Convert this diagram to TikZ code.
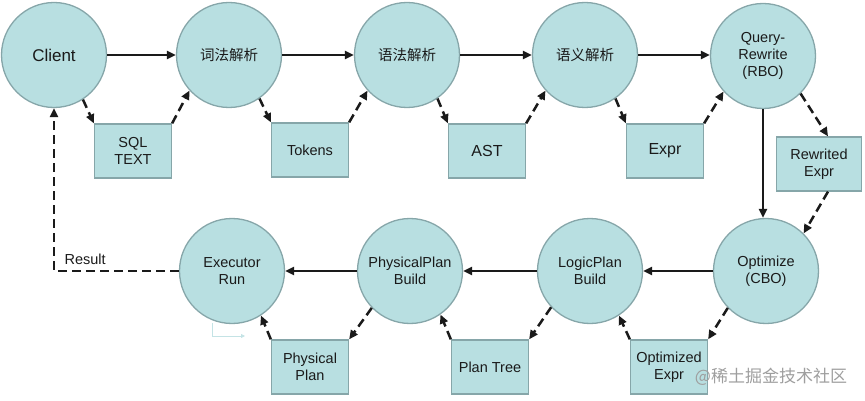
\documentclass[tikz,border=0pt]{standalone}
\usepackage{fontspec}
\setmainfont{Liberation Sans}
\newfontfamily\cjk{Noto Sans CJK SC}
\usetikzlibrary{arrows.meta}
\definecolor{fillc}{HTML}{B8DFE1}
\definecolor{edgec}{HTML}{86A6A9}
\definecolor{txt}{HTML}{1A1A1A}
\definecolor{faint}{HTML}{C4E3E5}
\begin{document}
\begin{tikzpicture}[x=1pt,y=-1pt,
  stage/.style={circle,draw=edgec,line width=1.3pt,fill=fillc,minimum size=105pt,inner sep=0pt,align=center,text=txt,font=\fontsize{14.5}{17}\selectfont},
  data/.style={rectangle,draw=edgec,line width=1.3pt,fill=fillc,minimum width=77pt,minimum height=54pt,inner sep=0pt,align=center,text=txt,font=\fontsize{14.5}{17}\selectfont},
  flow/.style={line width=2.5pt,draw=txt,-{Triangle[length=9pt,width=8pt]}},
  dflow/.style={flow,dash pattern=on 9pt off 5pt}]
\useasboundingbox (0,0) rectangle (865,401);
% stages
\node[stage,font=\fontsize{17}{19}\selectfont] (client) at (54,55) {Client};
\node[stage,font=\cjk\fontsize{14.5}{17}\selectfont] (lex) at (229,55) {词法解析};
\node[stage,font=\cjk\fontsize{14.5}{17}\selectfont] (syn) at (407,55) {语法解析};
\node[stage,font=\cjk\fontsize{14.5}{17}\selectfont] (sem) at (585,55) {语义解析};
\node[stage] (rbo) at (763,56) {Query-\\Rewrite\\(RBO)};
\node[stage] (cbo) at (766,271) {Optimize\\(CBO)};
\node[stage] (logic) at (590,271) {LogicPlan\\Build};
\node[stage] (phys) at (410,271) {PhysicalPlan\\Build};
\node[stage] (exec) at (232,271) {Executor\\Run};
% data
\node[data] (sql) at (133,151) {SQL\\TEXT};
\node[data] (tokens) at (310,150) {Tokens};
\node[data,font=\fontsize{16}{18}\selectfont] (ast) at (487,151) {AST};
\node[data,font=\fontsize{16}{18}\selectfont] (expr) at (665,151) {Expr};
\node[data,minimum width=85pt] (rew) at (819,164) {Rewrited\\Expr};
\node[data] (pplan) at (310,367) {Physical\\Plan};
\node[data] (ptree) at (490,367) {Plan Tree};
\node[data] (oexpr) at (669,367) {Optimized\\Expr};
% main flow
\draw[flow] (client.east) -- (client.east -| lex.west);
\draw[flow] (lex) -- (syn);
\draw[flow] (syn) -- (sem);
\draw[flow] (sem.east) -- (sem.east -| rbo.west);
\draw[flow] (rbo.south) -- (rbo.south |- cbo.north);
\draw[flow] (cbo) -- (logic);
\draw[flow] (logic) -- (phys);
\draw[flow] (phys) -- (exec);
% data flow
\draw[dflow] (client.-57) -- (sql.north west);
\draw[dflow] (sql.north east) -- (lex.-138);
\draw[dflow] (lex.-55) -- (tokens.north west);
\draw[dflow] (tokens.north east) -- (syn.-138);
\draw[dflow] (syn.-55) -- (ast.north west);
\draw[dflow] (ast.north east) -- (sem.-138);
\draw[dflow] (sem.-55) -- (expr.north west);
\draw[dflow] (expr.north east) -- (rbo.-138);
\draw[dflow] (rbo.-45) -- ([xshift=9pt]rew.north);
\draw[dflow] ([xshift=9pt]rew.south) -- (cbo.45);
\draw[dflow] (cbo.-136) -- (oexpr.north east);
\draw[dflow] (oexpr.north west) -- (logic.-57);
\draw[dflow] (logic.-137) -- (ptree.north east);
\draw[dflow] (ptree.north west) -- (phys.-55);
\draw[dflow] (phys.-136) -- (pplan.north east);
\draw[dflow] (pplan.north west) -- (exec.-57);
% result
\draw[dflow] (exec.west) -- (exec.west -| client.south) -- (client.south);
\node[text=txt,font=\fontsize{14.5}{17}\selectfont,anchor=base west] (res) at (61,264) {Result};
% faint mark
\coordinate (f1) at (212,323);
\coordinate (f2) at (212,336);
\coordinate (f3) at (245,336);
\draw[faint,line width=0.8pt,-{Triangle[length=4pt,width=4pt]}] (f1) -- (f2) -- (f3);
% watermark
\node[text=black!38,font=\cjk\fontsize{17}{20}\selectfont] (wm) at (771,377) {@稀土掘金技术社区};
\end{tikzpicture}
\end{document}
